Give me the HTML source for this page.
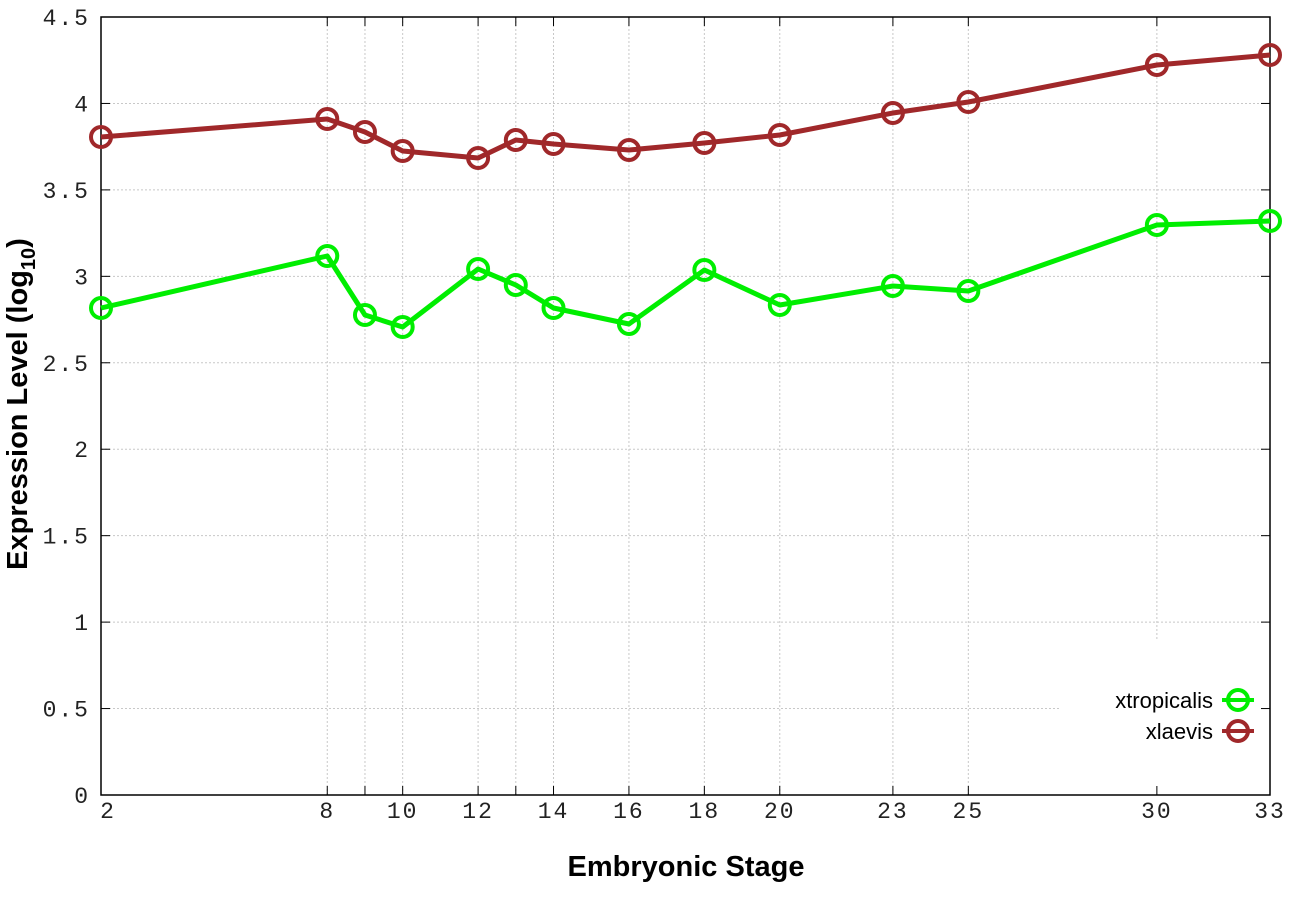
<!DOCTYPE html><html><head><style>body{margin:0;background:#fff}svg{display:block}</style></head><body>
<svg width="1296" height="907" xmlns="http://www.w3.org/2000/svg">
<rect width="1296" height="907" fill="#fff"/>
<g id="grid" stroke="#c8c8c8" stroke-width="1" stroke-dasharray="2,2"></g>
<rect x="1060" y="680" width="205" height="70" fill="#fff"/>
<rect x="101" y="17" width="1169" height="778" fill="none" stroke="#000" stroke-width="1.5"/>
<g id="ticks" stroke="#000" stroke-width="1"></g>
<g id="labels" font-family="Liberation Mono, monospace" font-size="23" letter-spacing="2" fill="#222"></g>
<text x="686" y="876" text-anchor="middle" font-family="Liberation Sans, sans-serif" font-weight="bold" font-size="29">Embryonic Stage</text>
<text transform="translate(27,404) rotate(-90)" text-anchor="middle" font-family="Liberation Sans, sans-serif" font-weight="bold" font-size="29">Expression Level (log<tspan font-size="20" dy="8">10</tspan><tspan dy="-8">)</tspan></text>
<g id="series"></g>
<g font-family="Liberation Sans, sans-serif" font-size="22" text-anchor="end" fill="#000">
<text x="1213" y="708">xtropicalis</text><text x="1213" y="739">xlaevis</text></g>
<g stroke-width="4" fill="none">
<line x1="1222" y1="700" x2="1254" y2="700" stroke="#00ee00"/><circle cx="1238" cy="700" r="10" stroke="#00ee00" fill="#fff"/>
<line x1="1222" y1="731" x2="1254" y2="731" stroke="#a0282a"/><circle cx="1238" cy="731" r="10" stroke="#a0282a" fill="#fff"/>
<line x1="1222" y1="700" x2="1254" y2="700" stroke="#00ee00"/><line x1="1222" y1="731" x2="1254" y2="731" stroke="#a0282a"/>
</g>
</svg>
<script>
const ns="http://www.w3.org/2000/svg";
function el(p,t,a,txt){const e=document.createElementNS(ns,t);for(const k in a)e.setAttribute(k,a[k]);if(txt)e.textContent=txt;document.getElementById(p).appendChild(e);}
const X=s=>101+(s-2)*1169/31, Y=v=>795-v*778/4.5;
const stages=[2,8,9,10,12,13,14,16,18,20,23,25,30,33];
const xl=[2,8,10,12,14,16,18,20,23,25,30,33];
for(let i=1;i<9;i++){const v=i*0.5,y=Y(v);el('grid','line',{x1:101,y1:y,x2:i==1?1060:1270,y2:y});
el('ticks','line',{x1:101,y1:y,x2:110,y2:y});el('ticks','line',{x1:1261,y1:y,x2:1270,y2:y});}
for(let i=0;i<=9;i++){el('labels','text',{x:90,y:Y(i*0.5)+8,'text-anchor':'end'},(i*0.5).toString());}
stages.forEach(s=>{const x=X(s);if(s!=2&&s!=33)el('grid','line',{x1:x,y1:17,x2:x,y2:s==30?640:795});
el('ticks','line',{x1:x,y1:795,x2:x,y2:786});el('ticks','line',{x1:x,y1:17,x2:x,y2:26});});
xl.forEach(s=>el('labels','text',{x:X(s)+(s==2?7:0),y:818,'text-anchor':'middle'},String(s)));
const red=[137,119,132,151,158,140,144,150,143,135,113,102,65,55];
const grn=[308,256,315,327,269,285,308,324,270,305,286,291,225,221];
[[grn,'#00ee00'],[red,'#a0282a']].forEach(([d,c])=>{
el('series','polyline',{points:stages.map((s,i)=>X(s)+','+d[i]).join(' '),fill:'none',stroke:c,'stroke-width':5,'stroke-linejoin':'round'});
stages.forEach((s,i)=>el('series','circle',{cx:X(s),cy:d[i],r:10,fill:'none',stroke:c,'stroke-width':4}));});
</script>
</body></html>
